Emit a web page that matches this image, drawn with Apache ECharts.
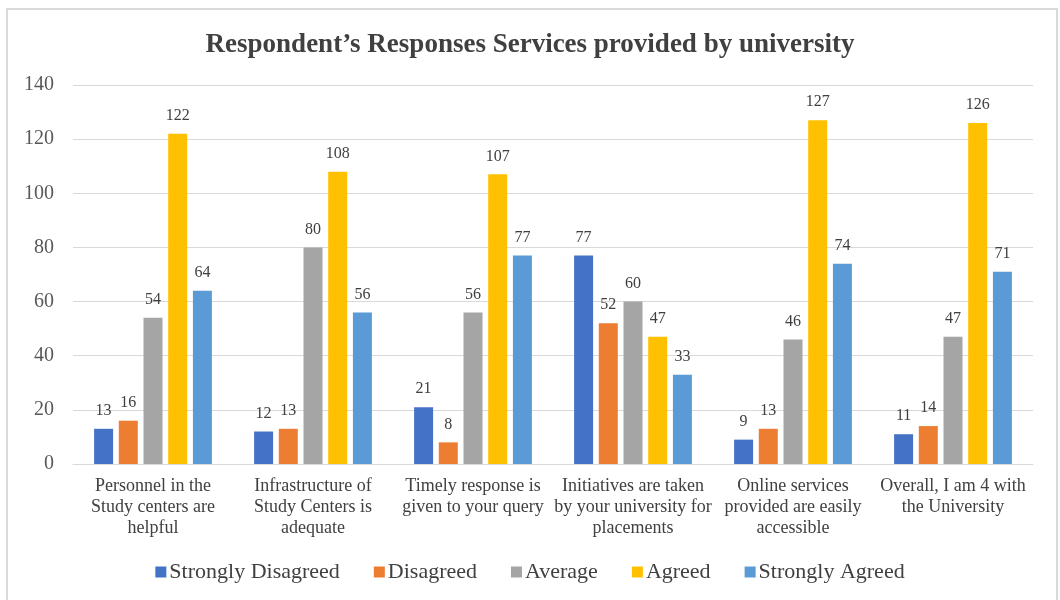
<!DOCTYPE html>
<html>
<head>
<meta charset="utf-8">
<script src="https://cdn.jsdelivr.net/npm/echarts@6/dist/echarts.min.js"></script>
<style>
html,body{margin:0;padding:0;background:#fff;}
#c{width:1060px;height:600px;}
</style>
</head>
<body>
<div id="c"></div>
<script>
var categories = [
  "Personnel in the\nStudy centers are\nhelpful",
  "Infrastructure of\nStudy Centers is\nadequate",
  "Timely response is\ngiven to your query",
  "Initiatives are taken\nby your university for\nplacements",
  "Online services\nprovided are easily\naccessible",
  "Overall, I am 4 with\nthe University"
];
var seriesNames = ["Strongly Disagreed", "Disagreed", "Average", "Agreed", "Strongly Agreed"];
var stronglyDisagreed = [13, 12, 21, 77, 9, 11];
var disagreed = [16, 13, 8, 52, 13, 14];
var average = [54, 80, 56, 60, 46, 47];
var agreed = [122, 108, 107, 47, 127, 126];
var stronglyAgreed = [64, 56, 77, 33, 74, 71];
var colors = ["#4472C4", "#ED7D31", "#A5A5A5", "#FFC000", "#5B9BD5"];
var yTicks = {min: 0, max: 140, interval: 20};

var font = "'Liberation Serif', 'DejaVu Serif', serif";
var values = [stronglyDisagreed, disagreed, average, agreed, stronglyAgreed];
var series = seriesNames.map(function (n, i) {
  return {
    name: n,
    type: 'bar',
    data: values[i],
    barWidth: 19,
    barGap: '30%',
    itemStyle: {color: colors[i]},
    label: {show: true, position: 'top', distance: 10, fontFamily: font, fontSize: 16, color: '#404040'}
  };
});

var chart = echarts.init(document.getElementById('c'), null, {renderer: 'canvas'});
chart.setOption({
  animation: false,
  backgroundColor: '#fff',
  color: colors,
  graphic: [{
    type: 'rect', left: 6, top: 8, silent: true, z: -1,
    shape: {width: 1050, height: 600},
    style: {fill: '#fff', stroke: '#d9d9d9', lineWidth: 2}
  }],
  title: {
    text: "Respondent\u2019s Responses Services provided by university",
    left: 'center', top: 27,
    textStyle: {fontFamily: font, fontSize: 27, fontWeight: 'bold', color: '#404040'}
  },
  legend: {
    top: 556, left: 'center',
    itemWidth: 11, itemHeight: 11, itemGap: 34,
    icon: 'rect',
    textStyle: {fontFamily: font, fontSize: 22, color: '#404040', padding: [0, 0, 0, -2]},
    data: seriesNames
  },
  grid: {left: 73, right: 27, top: 85, bottom: 136, containLabel: false},
  xAxis: {
    type: 'category',
    data: categories,
    axisTick: {show: false},
    axisLine: {lineStyle: {color: '#d9d9d9', width: 1}},
    axisLabel: {fontFamily: font, fontSize: 18, color: '#404040', lineHeight: 21, margin: 12, interval: 0}
  },
  yAxis: {
    type: 'value',
    min: yTicks.min, max: yTicks.max, interval: yTicks.interval,
    axisLine: {show: false},
    axisTick: {show: false},
    splitLine: {lineStyle: {color: '#d9d9d9', width: 1}},
    axisLabel: {fontFamily: font, fontSize: 20, color: '#595959', margin: 19}
  },
  series: series
});
</script>
</body>
</html>
